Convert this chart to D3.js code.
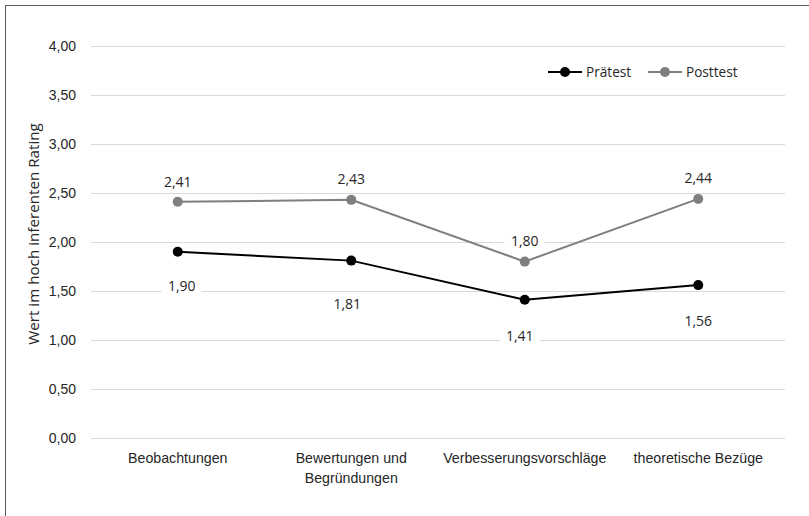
<!DOCTYPE html>
<html>
<head>
<meta charset="utf-8">
<script src="https://cdn.jsdelivr.net/npm/d3@7"></script>
<style>
  body { margin: 0; background: #fff; }
  svg { display: block; font-family: "Open Sans", "Liberation Sans", sans-serif; }
</style>
</head>
<body>
<div id="chart"></div>
<script>
const categories = [
  ["Beobachtungen"],
  ["Bewertungen und", "Begründungen"],
  ["Verbesserungsvorschläge"],
  ["theoretische Bezüge"]
];
const seriesNames = ["Prätest", "Posttest"];
const praetest = [1.90, 1.81, 1.41, 1.56];
const posttest = [2.41, 2.43, 1.80, 2.44];
const yTicks = [0, 0.5, 1, 1.5, 2, 2.5, 3, 3.5, 4];

const width = 809, height = 516;
const margin = { left: 91, right: 24, top: 46, bottom: 78 };
const fontSize = "13.6px", textColor = "#262626";
const fmt = (v) => d3.format(".2f")(v).replace(".", ",");

const svg = d3.select("#chart").append("svg").attr("width", width).attr("height", height);

// outer frame (only left/top inside the picture)
svg.append("rect")
  .attr("x", 5.5).attr("y", 5.5)
  .attr("width", width + 10).attr("height", height + 10)
  .attr("fill", "none").attr("stroke", "#595959").attr("stroke-width", 1);

const x = d3.scaleBand()
  .domain(d3.range(categories.length))
  .range([margin.left, width - margin.right]);
const y = d3.scaleLinear().domain([0, 4]).range([height - margin.bottom, margin.top]);

// gridlines + y labels
const yAxis = d3.axisLeft(y).tickValues(yTicks).tickFormat(fmt)
  .tickSize(-(width - margin.left - margin.right)).tickPadding(15);
const gy = svg.append("g").attr("transform", `translate(${margin.left},0)`).call(yAxis);
gy.select(".domain").remove();
gy.selectAll(".tick line").attr("stroke", "#d9d9d9").attr("stroke-width", 1);
gy.selectAll(".tick text").attr("fill", textColor).style("font-size", "14px");

// category labels
const xAxis = d3.axisBottom(x).tickSize(0).tickFormat("");
const gx = svg.append("g").attr("transform", `translate(0,${height - margin.bottom})`).call(xAxis);
gx.select(".domain").remove();
gx.selectAll(".tick").each(function (d) {
  const t = d3.select(this).append("text")
    .attr("fill", textColor).attr("text-anchor", "middle")
    .style("font-size", "14.2px");
  categories[d].forEach((line, i) => {
    t.append("tspan").attr("x", 0).attr("y", 25 + i * 20).text(line);
  });
});

// y title
svg.append("text")
  .attr("transform", "translate(39,234) rotate(-90)")
  .attr("text-anchor", "middle").attr("fill", textColor)
  .style("font-size", "15.2px")
  .text("Wert im hoch inferenten Rating");

const cx = (i) => x(i) + x.bandwidth() / 2;
const line = d3.line().x((d, i) => cx(i)).y((d) => y(d));

const series = [
  { name: seriesNames[0], values: praetest, color: "#000000", dy: [34, 43, 36, 36], dx: [4, -4, -5, 0] },
  { name: seriesNames[1], values: posttest, color: "#7f7f7f", dy: [-20, -21, -21, -21], dx: [0, 0, 0, 0] }
];

series.forEach((s) => {
  const g = svg.append("g");
  g.append("path").datum(s.values).attr("d", line)
    .attr("fill", "none").attr("stroke", s.color).attr("stroke-width", 2);
  g.selectAll("circle").data(s.values).join("circle")
    .attr("cx", (d, i) => cx(i)).attr("cy", (d) => y(d)).attr("r", 5)
    .attr("fill", s.color);
  const lab = g.selectAll("g.lab").data(s.values).join("g").attr("class", "lab")
    .attr("transform", (d, i) => `translate(${cx(i) + s.dx[i]},${y(d) + s.dy[i]})`);
  lab.append("rect").attr("x", -20).attr("y", -9).attr("width", 40).attr("height", 18).attr("fill", "#fff");
  lab.append("text").attr("text-anchor", "middle").attr("dy", "0.35em")
    .attr("fill", textColor).style("font-size", "14px").text((d) => fmt(d));
});

// legend
const legend = svg.append("g").attr("transform", "translate(548,72)");
const legendX = [0, 100];
series.forEach((s, i) => {
  const g = legend.append("g").attr("transform", `translate(${legendX[i]},0)`);
  g.append("line").attr("x1", 0).attr("x2", 34).attr("stroke", s.color).attr("stroke-width", 2);
  g.append("circle").attr("cx", 17).attr("r", 5).attr("fill", s.color);
  g.append("text").attr("x", 38).attr("dy", "0.35em").attr("fill", textColor)
    .style("font-size", fontSize).text(s.name);
});
</script>
</body>
</html>
